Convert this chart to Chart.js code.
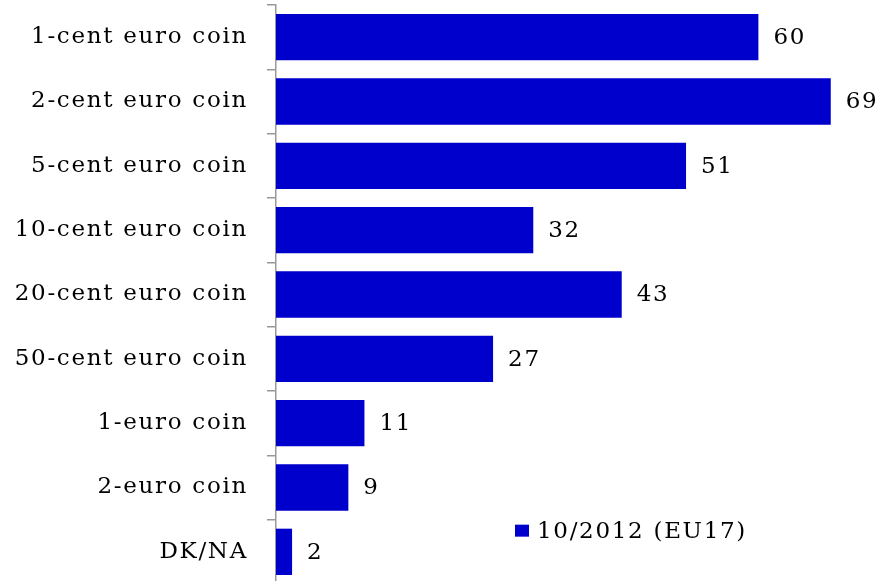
<!DOCTYPE html>
<html>
<head>
<meta charset="utf-8">
<script src="https://cdn.jsdelivr.net/npm/chart.js@4"></script>
<style>
html,body{margin:0;padding:0;background:#fff;overflow:hidden;}
#wrap{width:879px;height:581px;overflow:hidden;position:relative;}
#box{width:879px;height:584px;position:absolute;left:0;top:0;}
</style>
</head>
<body>
<div id="wrap"><div id="box"><canvas id="c"></canvas></div></div>
<script>
const categories = ["1-cent euro coin","2-cent euro coin","5-cent euro coin","10-cent euro coin","20-cent euro coin","50-cent euro coin","1-euro coin","2-euro coin","DK/NA"];
const values = [60, 69, 51, 32, 43, 27, 11, 9, 2];
const seriesName = "10/2012 (EU17)";
const FONT = "DejaVu Serif";
const FSIZE = 23;
const SPACING = "1.7px";
const BLUE = "#0000CC";

const spacingPlugin = {
  id: 'spacing',
  beforeDraw(chart) { chart.ctx.letterSpacing = SPACING; }
};

const labelPlugin = {
  id: 'vals',
  afterDatasetsDraw(chart) {
    const ctx = chart.ctx;
    const meta = chart.getDatasetMeta(0);
    ctx.save();
    ctx.letterSpacing = SPACING;
    ctx.font = FSIZE + "px '" + FONT + "'";
    ctx.fillStyle = "#000";
    ctx.textAlign = "left";
    ctx.textBaseline = "middle";
    meta.data.forEach((bar, i) => {
      ctx.fillText(String(values[i]), bar.x + 15, bar.y + 1);
    });
    ctx.restore();
  }
};

const legendPlugin = {
  id: 'legendIn',
  afterDraw(chart) {
    const ctx = chart.ctx;
    const ca = chart.chartArea;
    const yscale = chart.scales.y;
    const cy = yscale.getPixelForValue(categories.length - 1.5);
    const x0 = ca.left + 239;
    ctx.save();
    ctx.fillStyle = BLUE;
    ctx.fillRect(x0, cy + 5, 14, 12);
    ctx.letterSpacing = SPACING;
    ctx.font = FSIZE + "px '" + FONT + "'";
    ctx.fillStyle = "#000";
    ctx.textAlign = "left";
    ctx.textBaseline = "middle";
    ctx.fillText(seriesName, x0 + 22, cy + 12);
    ctx.restore();
  }
};

new Chart(document.getElementById('c'), {
  type: 'bar',
  data: {
    labels: categories,
    datasets: [{
      label: seriesName,
      data: values,
      backgroundColor: BLUE,
      borderWidth: 0,
      barPercentage: 0.72,
      categoryPercentage: 1.0
    }]
  },
  options: {
    indexAxis: 'y',
    responsive: true,
    maintainAspectRatio: false,
    animation: false,
    layout: { padding: { top: 5, right: 0, bottom: 0, left: 0 } },
    plugins: { legend: { display: false }, tooltip: { enabled: false } },
    scales: {
      x: { display: false, min: 0, max: 75 },
      y: {
        afterFit(scale) { scale.width = 276; scale.paddingTop = 0; scale.paddingBottom = 0; },
        border: { display: true, color: '#999999', width: 1.5 },
        grid: { display: true, drawOnChartArea: false, drawTicks: true, tickLength: 9, offset: true, color: '#999999', lineWidth: 1.5 },
        ticks: {
          color: '#000',
          padding: 19,
          font: { family: FONT, size: FSIZE }
        }
      }
    }
  },
  plugins: [spacingPlugin, labelPlugin, legendPlugin]
});
</script>
</body>
</html>
